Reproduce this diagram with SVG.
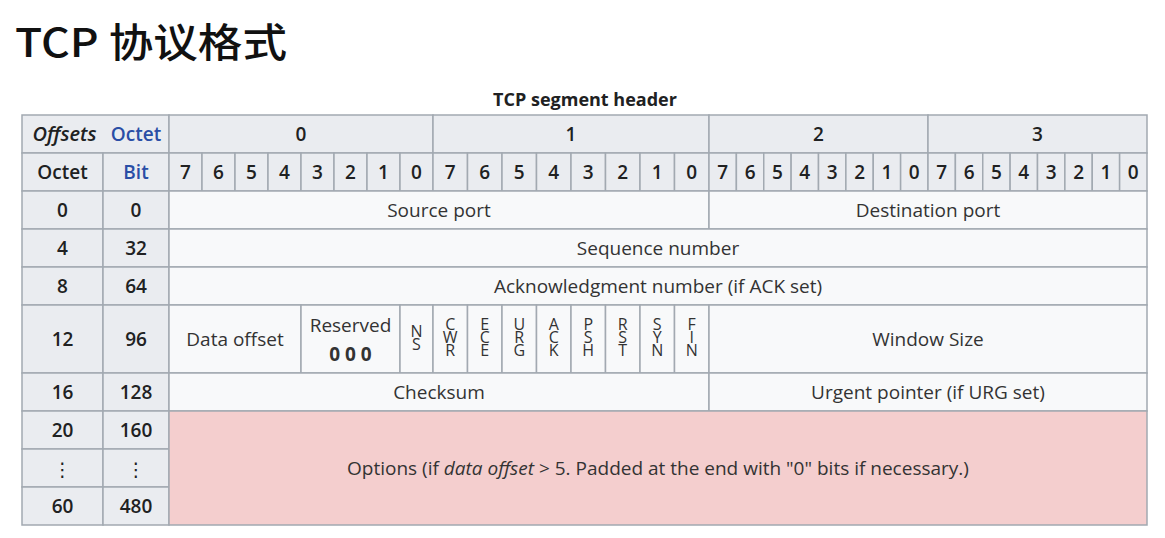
<svg xmlns="http://www.w3.org/2000/svg" width="1165" height="538" viewBox="0 0 1165 538">
<style>
.th{fill:#eaecf0;stroke:#a2a9b1;stroke-width:1.5}
.td{fill:#f8f9fa;stroke:#a2a9b1;stroke-width:1.5}
.op{fill:#f4cece;stroke:#a2a9b1;stroke-width:1.5}
text{font-family:"Open Sans","Noto Sans",sans-serif;text-anchor:middle}
.h{font-size:19px;font-weight:600;fill:#202122}
.b{font-size:19px;fill:#333}
.blue{fill:#2a4ea6}
.f{font-size:16px;fill:#333}
.dots{font-family:"DejaVu Sans",sans-serif;font-size:19px;fill:#202122}
</style>
<rect width="1165" height="538" fill="#ffffff"/>
<g id="title"><text x="15" y="57" style="font-family:'Noto Sans CJK SC','Noto Sans',sans-serif;text-anchor:start;font-size:40px;font-weight:500;fill:#111" textLength="272" lengthAdjust="spacingAndGlyphs">TCP 协议格式</text></g>
<g id="caption"><text class="h" x="585" y="106" style="font-size:18px;font-weight:bold">TCP segment header</text></g>
<g id="header-row1">
<rect class="th" x="22" y="115" width="147" height="38"/>
<text class="h" x="64.5" y="141" font-style="italic" textLength="64" lengthAdjust="spacingAndGlyphs">Offsets</text>
<text class="h blue" x="136" y="141">Octet</text>
<rect class="th" x="169" y="115" width="264" height="38"/><text class="h" x="301" y="141">0</text>
<rect class="th" x="433" y="115" width="276" height="38"/><text class="h" x="571" y="141">1</text>
<rect class="th" x="709" y="115" width="219" height="38"/><text class="h" x="818.5" y="141">2</text>
<rect class="th" x="928" y="115" width="219" height="38"/><text class="h" x="1037.5" y="141">3</text>
</g>
<g id="header-row2">
<rect class="th" x="22" y="153" width="81" height="38"/><text class="h" x="62.5" y="179">Octet</text>
<rect class="th" x="103" y="153" width="66" height="38"/><text class="h blue" x="136" y="179">Bit</text>
<rect class="th" x="169" y="153" width="33" height="38"/><text class="h" x="185.5" y="179">7</text>
<rect class="th" x="202" y="153" width="33" height="38"/><text class="h" x="218.5" y="179">6</text>
<rect class="th" x="235" y="153" width="33" height="38"/><text class="h" x="251.5" y="179">5</text>
<rect class="th" x="268" y="153" width="33" height="38"/><text class="h" x="284.5" y="179">4</text>
<rect class="th" x="301" y="153" width="33" height="38"/><text class="h" x="317.5" y="179">3</text>
<rect class="th" x="334" y="153" width="33" height="38"/><text class="h" x="350.5" y="179">2</text>
<rect class="th" x="367" y="153" width="33" height="38"/><text class="h" x="383.5" y="179">1</text>
<rect class="th" x="400" y="153" width="33" height="38"/><text class="h" x="416.5" y="179">0</text>
<rect class="th" x="433" y="153" width="34.5" height="38"/><text class="h" x="450.25" y="179">7</text>
<rect class="th" x="467.5" y="153" width="34.5" height="38"/><text class="h" x="484.75" y="179">6</text>
<rect class="th" x="502" y="153" width="34.5" height="38"/><text class="h" x="519.25" y="179">5</text>
<rect class="th" x="536.5" y="153" width="34.5" height="38"/><text class="h" x="553.75" y="179">4</text>
<rect class="th" x="571" y="153" width="34.5" height="38"/><text class="h" x="588.25" y="179">3</text>
<rect class="th" x="605.5" y="153" width="34.5" height="38"/><text class="h" x="622.75" y="179">2</text>
<rect class="th" x="640" y="153" width="34.5" height="38"/><text class="h" x="657.25" y="179">1</text>
<rect class="th" x="674.5" y="153" width="34.5" height="38"/><text class="h" x="691.75" y="179">0</text>
<rect class="th" x="709" y="153" width="27.375" height="38"/><text class="h" x="722.7" y="179">7</text>
<rect class="th" x="736.375" y="153" width="27.375" height="38"/><text class="h" x="750.1" y="179">6</text>
<rect class="th" x="763.75" y="153" width="27.375" height="38"/><text class="h" x="777.4" y="179">5</text>
<rect class="th" x="791.125" y="153" width="27.375" height="38"/><text class="h" x="804.8" y="179">4</text>
<rect class="th" x="818.5" y="153" width="27.375" height="38"/><text class="h" x="832.2" y="179">3</text>
<rect class="th" x="845.875" y="153" width="27.375" height="38"/><text class="h" x="859.6" y="179">2</text>
<rect class="th" x="873.25" y="153" width="27.375" height="38"/><text class="h" x="886.9" y="179">1</text>
<rect class="th" x="900.625" y="153" width="27.375" height="38"/><text class="h" x="914.3" y="179">0</text>
<rect class="th" x="928" y="153" width="27.375" height="38"/><text class="h" x="941.7" y="179">7</text>
<rect class="th" x="955.375" y="153" width="27.375" height="38"/><text class="h" x="969.1" y="179">6</text>
<rect class="th" x="982.75" y="153" width="27.375" height="38"/><text class="h" x="996.4" y="179">5</text>
<rect class="th" x="1010.125" y="153" width="27.375" height="38"/><text class="h" x="1023.8" y="179">4</text>
<rect class="th" x="1037.5" y="153" width="27.375" height="38"/><text class="h" x="1051.2" y="179">3</text>
<rect class="th" x="1064.875" y="153" width="27.375" height="38"/><text class="h" x="1078.6" y="179">2</text>
<rect class="th" x="1092.25" y="153" width="27.375" height="38"/><text class="h" x="1105.9" y="179">1</text>
<rect class="th" x="1119.625" y="153" width="27.375" height="38"/><text class="h" x="1133.3" y="179">0</text>
</g>
<g id="row-0">
<rect class="th" x="22" y="191" width="81" height="38"/><text class="h" x="62.5" y="217">0</text>
<rect class="th" x="103" y="191" width="66" height="38"/><text class="h" x="136" y="217">0</text>
<rect class="td" x="169" y="191" width="540" height="38"/><text class="b" x="439" y="217">Source port</text>
<rect class="td" x="709" y="191" width="438" height="38"/><text class="b" x="928" y="217">Destination port</text>
</g>
<g id="row-4">
<rect class="th" x="22" y="229" width="81" height="38"/><text class="h" x="62.5" y="255">4</text>
<rect class="th" x="103" y="229" width="66" height="38"/><text class="h" x="136" y="255">32</text>
<rect class="td" x="169" y="229" width="978" height="38"/><text class="b" x="658" y="255">Sequence number</text>
</g>
<g id="row-8">
<rect class="th" x="22" y="267" width="81" height="38"/><text class="h" x="62.5" y="293">8</text>
<rect class="th" x="103" y="267" width="66" height="38"/><text class="h" x="136" y="293">64</text>
<rect class="td" x="169" y="267" width="978" height="38"/><text class="b" x="658" y="293">Acknowledgment number (if ACK set)</text>
</g>
<g id="row-12">
<rect class="th" x="22" y="305" width="81" height="68"/><text class="h" x="62.5" y="346">12</text>
<rect class="th" x="103" y="305" width="66" height="68"/><text class="h" x="136" y="346">96</text>
<rect class="td" x="169" y="305" width="132" height="68"/><text class="b" x="235" y="346">Data offset</text>
<rect class="td" x="301" y="305" width="99" height="68"/><text class="b" x="350.5" y="332">Reserved</text><text class="h" x="350.5" y="361" style="fill:#333;font-weight:bold">0 0 0</text>
<rect class="td" x="400" y="305" width="33" height="68"/><text class="f"><tspan x="416.5" y="337">N</tspan><tspan x="416.5" y="350">S</tspan></text>
<rect class="td" x="433" y="305" width="34.5" height="68"/><text class="f"><tspan x="450.25" y="330">C</tspan><tspan x="450.25" y="343">W</tspan><tspan x="450.25" y="356">R</tspan></text>
<rect class="td" x="467.5" y="305" width="34.5" height="68"/><text class="f"><tspan x="484.75" y="330">E</tspan><tspan x="484.75" y="343">C</tspan><tspan x="484.75" y="356">E</tspan></text>
<rect class="td" x="502" y="305" width="34.5" height="68"/><text class="f"><tspan x="519.25" y="330">U</tspan><tspan x="519.25" y="343">R</tspan><tspan x="519.25" y="356">G</tspan></text>
<rect class="td" x="536.5" y="305" width="34.5" height="68"/><text class="f"><tspan x="553.75" y="330">A</tspan><tspan x="553.75" y="343">C</tspan><tspan x="553.75" y="356">K</tspan></text>
<rect class="td" x="571" y="305" width="34.5" height="68"/><text class="f"><tspan x="588.25" y="330">P</tspan><tspan x="588.25" y="343">S</tspan><tspan x="588.25" y="356">H</tspan></text>
<rect class="td" x="605.5" y="305" width="34.5" height="68"/><text class="f"><tspan x="622.75" y="330">R</tspan><tspan x="622.75" y="343">S</tspan><tspan x="622.75" y="356">T</tspan></text>
<rect class="td" x="640" y="305" width="34.5" height="68"/><text class="f"><tspan x="657.25" y="330">S</tspan><tspan x="657.25" y="343">Y</tspan><tspan x="657.25" y="356">N</tspan></text>
<rect class="td" x="674.5" y="305" width="34.5" height="68"/><text class="f"><tspan x="691.75" y="330">F</tspan><tspan x="691.75" y="343">I</tspan><tspan x="691.75" y="356">N</tspan></text>
<rect class="td" x="709" y="305" width="438" height="68"/><text class="b" x="928" y="346">Window Size</text>
</g>
<g id="row-16">
<rect class="th" x="22" y="373" width="81" height="38"/><text class="h" x="62.5" y="399">16</text>
<rect class="th" x="103" y="373" width="66" height="38"/><text class="h" x="136" y="399">128</text>
<rect class="td" x="169" y="373" width="540" height="38"/><text class="b" x="439" y="399">Checksum</text>
<rect class="td" x="709" y="373" width="438" height="38"/><text class="b" x="928" y="399">Urgent pointer (if URG set)</text>
</g>
<g id="row-20-60">
<rect class="th" x="22" y="411" width="81" height="38"/><text class="h" x="62.5" y="437">20</text>
<rect class="th" x="103" y="411" width="66" height="38"/><text class="h" x="136" y="437">160</text>
<rect class="th" x="22" y="449" width="81" height="38"/><text class="dots" x="62.5" y="476">⋮</text>
<rect class="th" x="103" y="449" width="66" height="38"/><text class="dots" x="136" y="476">⋮</text>
<rect class="th" x="22" y="487" width="81" height="38"/><text class="h" x="62.5" y="513">60</text>
<rect class="th" x="103" y="487" width="66" height="38"/><text class="h" x="136" y="513">480</text>
<rect class="op" x="169" y="411" width="978" height="114"/>
<text class="b" x="658" y="475">Options (if <tspan font-style="italic">data offset</tspan> &gt; 5. Padded at the end with "0" bits if necessary.)</text>
</g>
</svg>
